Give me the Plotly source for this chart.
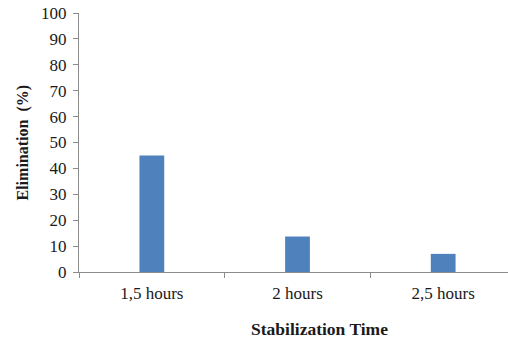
import plotly.graph_objects as go

categories = ["1,5 hours", "2 hours", "2,5 hours"]
elimination = [45, 13.7, 7]
y_ticks = [0, 10, 20, 30, 40, 50, 60, 70, 80, 90, 100]

W, H = 508, 343
L, R, T, B = 79, 0, 13, 71

axis_grey = "#8c8c8c"
font_family = "Liberation Serif"

fig = go.Figure()
fig.add_trace(go.Bar(
    x=list(range(len(categories))),
    y=elimination,
    width=0.17,
    marker=dict(color="#4f81bd", line=dict(width=0)),
))

fig.update_layout(
    width=W, height=H,
    margin=dict(l=L, r=R, t=T, b=B),
    paper_bgcolor="white", plot_bgcolor="white",
    showlegend=False,
    font=dict(family=font_family, size=17, color="#1a1a1a"),
)

fig.update_xaxes(
    range=[-0.5, 2.445],
    tickvals=list(range(len(categories))),
    ticktext=categories,
    ticks="",
    showgrid=False, zeroline=False,
    showline=True, linecolor=axis_grey, linewidth=1,
    ticklabelstandoff=6,
    minor=dict(tickvals=[-0.5, 0.5, 1.5, 2.5], ticks="outside",
               ticklen=5, tickcolor=axis_grey, showgrid=False),
)

fig.update_yaxes(
    range=[0, 100],
    tickvals=y_ticks,
    ticks="outside", ticklen=5, tickcolor=axis_grey,
    showgrid=False, zeroline=False,
    showline=True, linecolor=axis_grey, linewidth=1,
    ticklabelstandoff=3,
)

fig.add_annotation(
    text="<b>Elimination  (%)</b>", textangle=-90,
    xref="paper", yref="paper", x=-(L - 22) / (W - L - R), y=0.5,
    showarrow=False, font=dict(size=16, family=font_family, color="#1a1a1a"),
    xanchor="center", yanchor="middle",
)
fig.add_annotation(
    text="<b>Stabilization Time</b>",
    xref="paper", yref="paper", x=(319 - L) / (W - L - R), y=-(329 - (H - B)) / (H - T - B),
    showarrow=False, font=dict(size=17.5, family=font_family, color="#1a1a1a"),
    xanchor="center", yanchor="middle",
)

fig.write_html("out.html")
